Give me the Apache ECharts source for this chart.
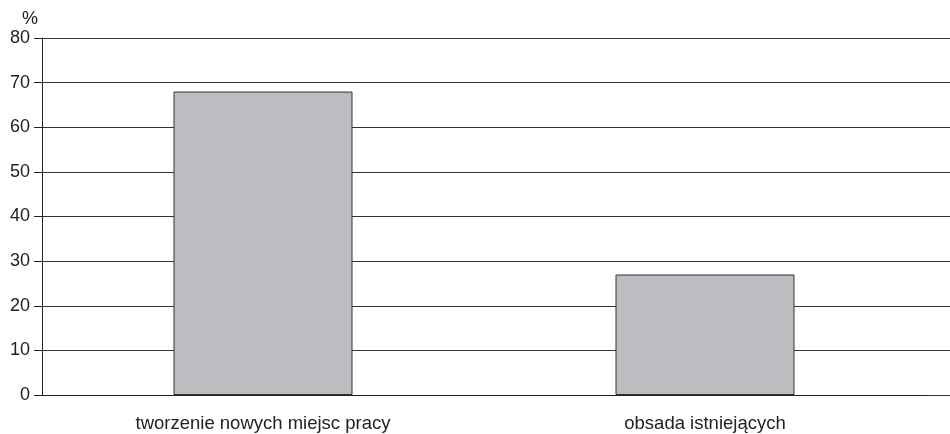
<!DOCTYPE html>
<html><head><meta charset="utf-8">
<script src="https://cdn.jsdelivr.net/npm/echarts@6/dist/echarts.min.js"></script>
<style>html,body{margin:0;padding:0;background:#fff}#c{width:950px;height:434px}</style>
</head><body><div id="c"></div>
<script>
const categories = ['tworzenie nowych miejsc pracy', 'obsada istniejących'];
const values = [68, 27];
const yTicks = {min: 0, max: 80, interval: 10};
const unitLabel = '%';

const chart = echarts.init(document.getElementById('c'));
const font = 'Arial, "Liberation Sans", sans-serif';
chart.setOption({
  animation: false,
  grid: [
    {left: 42, right: 24, top: 38, bottom: 39},
    {left: 42, right: 0, top: 38, bottom: 39}
  ],
  xAxis: [
    {type: 'category', gridIndex: 0, data: categories,
     axisLine: {show: true, lineStyle: {color: '#222', width: 1}},
     axisTick: {show: false},
     axisLabel: {color: '#222', fontSize: 18.5, fontFamily: font, margin: 19}},
    {type: 'value', gridIndex: 1, min: 0, max: 1, show: false}
  ],
  yAxis: [
    {type: 'value', gridIndex: 0, min: yTicks.min, max: yTicks.max, interval: yTicks.interval,
     name: unitLabel, nameLocation: 'end', nameGap: 10,
     nameTextStyle: {color: '#222', fontSize: 18, fontFamily: font, align: 'center', padding: [0, 24, 0, 0]},
     axisLine: {show: true, lineStyle: {color: '#222', width: 1}},
     axisTick: {show: true, length: 8, lineStyle: {color: '#222'}},
     axisLabel: {color: '#222', fontSize: 18, fontFamily: font, margin: 12},
     splitLine: {show: false}},
    {type: 'value', gridIndex: 1, min: yTicks.min, max: yTicks.max, interval: yTicks.interval,
     axisLine: {show: false}, axisTick: {show: false}, axisLabel: {show: false},
     splitLine: {show: true, lineStyle: {color: '#333', width: 1}}}
  ],
  series: [{
    type: 'bar', xAxisIndex: 0, yAxisIndex: 0, data: values, barWidth: 179,
    itemStyle: {color: '#bcbdc1', borderColor: '#333', borderWidth: 1},
    z: 3
  }]
});
</script></body></html>
